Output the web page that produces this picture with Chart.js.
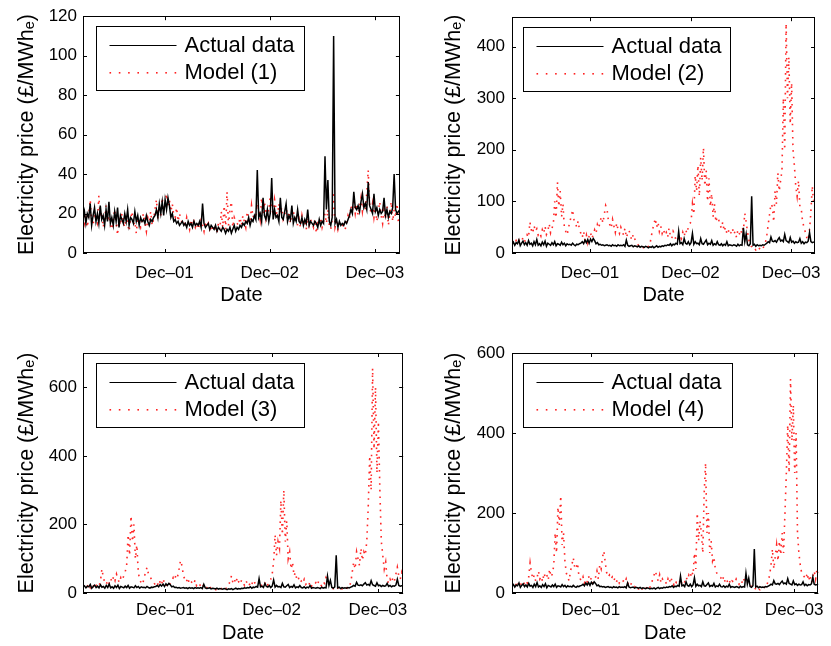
<!DOCTYPE html>
<html>
<head>
<meta charset="utf-8">
<script src="https://cdn.jsdelivr.net/npm/chart.js@4.4.1/dist/chart.umd.min.js"></script>
<style>
  body { margin: 0; background: #fff; }
  #wrap { position: relative; width: 831px; height: 646px; }
  canvas { position: absolute; }
</style>
</head>
<body>
<div id="wrap">
  <canvas id="c1" width="415" height="310" style="left:0;top:0"></canvas>
  <canvas id="c2" width="416" height="310" style="left:415px;top:0"></canvas>
  <canvas id="c3" width="415" height="326" style="left:0;top:320px"></canvas>
  <canvas id="c4" width="416" height="326" style="left:415px;top:320px"></canvas>
</div>
<script>
// days since start of the sample, one value every 5 days (0 .. 1100)
var dayStep = 5;
var xTickDays = [283, 648, 1013];
var xTickLabels = ['Dec\u201301', 'Dec\u201302', 'Dec\u201303'];

var actualPrice = [
  17,21,15,20,18,25,14,19,23,16,
  20,15,24,17,19,14,22,16,26,15,
  18,14,21,16,23,13,19,17,15,20,
  16,22,14,18,17,15,21,16,19,14,
  18,16,17,15,19,16,14,17,16,18,
  19,22,18,25,20,26,19,27,22,28,
  24,18,20,16,17,15,16,14,15,16,
  14,15,13,16,14,15,13,16,14,15,
  14,16,13,25,15,13,14,15,12,14,
  13,12,14,11,13,12,11,13,12,10,
  12,11,13,10,12,14,11,13,12,14,
  13,15,14,16,15,18,14,17,16,19,
  17,42,18,20,16,28,19,17,22,16,
  20,38,17,22,18,19,16,28,18,17,
  21,25,16,19,17,24,15,18,16,22,
  16,15,18,14,17,15,22,14,16,15,
  14,16,15,13,17,14,16,15,49,22,
  37,16,14,18,110,15,17,13,16,14,
  15,14,16,15,17,19,22,20,31,23,
  22,24,21,26,30,23,25,22,36,24,
  22,20,30,21,23,19,22,20,21,28,
  19,22,18,21,20,23,40,22,20,21,
  22
];

var model1 = [
  22,15,18,13,19,27,16,14,20,17,
  15,29,18,21,13,17,24,16,19,14,
  12,17,22,15,9,18,14,20,16,13,
  19,15,11,17,21,14,16,10,18,15,
  13,17,20,15,11,18,16,21,14,17,
  22,27,17,24,19,28,21,25,30,23,
  27,21,25,19,18,23,16,20,17,15,
  16,13,18,15,12,17,14,16,13,15,
  12,15,17,14,11,16,13,15,12,14,
  11,14,13,10,15,12,21,13,24,12,
  31,14,22,26,13,18,16,15,14,18,
  14,19,16,13,21,17,15,24,18,20,
  19,25,22,17,28,20,26,18,23,21,
  29,24,19,27,22,18,25,20,23,17,
  19,24,17,21,15,20,22,16,18,14,
  17,13,19,15,16,12,18,14,17,15,
  13,17,10,15,14,18,13,16,20,15,
  22,14,12,17,31,13,16,12,15,14,
  13,16,12,15,19,17,24,21,26,20,
  25,19,23,28,21,26,22,30,42,24,
  20,25,18,23,16,21,26,19,15,22,
  17,24,14,20,26,16,22,18,25,15,
  19
];

var model2 = [
  20,22,18,24,19,25,21,23,30,22,
  26,35,30,60,45,38,53,42,47,35,
  40,33,45,38,52,36,42,57,39,48,
  55,100,68,137,90,120,70,95,50,42,
  35,48,62,70,84,65,58,50,62,45,
  38,30,42,25,35,20,33,40,28,36,
  45,38,55,48,62,70,58,75,92,85,
  62,55,48,65,52,40,58,45,38,50,
  42,35,48,30,38,44,33,25,36,28,
  22,18,14,12,10,11,9,12,10,13,
  15,30,45,55,67,50,60,42,52,38,
  46,35,40,30,48,33,28,42,36,25,
  30,22,35,28,40,32,45,38,50,57,
  60,95,75,150,120,170,110,185,140,204,
  130,160,100,145,90,115,70,95,60,70,
  65,55,48,60,42,50,38,45,35,40,
  48,36,42,30,45,38,33,50,44,77,
  60,40,25,15,12,8,10,6,9,12,
  7,10,8,14,20,35,55,75,95,90,
  60,120,95,155,120,140,160,300,200,445,
  300,380,250,330,200,170,130,110,140,90,
  85,60,50,40,30,25,45,80,130,95,
  110
];

var model3 = [
  22,18,25,20,28,16,24,19,30,22,
  26,20,35,70,45,30,25,38,28,42,
  32,48,36,55,40,30,45,38,50,62,
  80,170,110,225,150,200,100,140,60,38,
  30,25,45,60,75,55,48,40,35,28,
  22,30,20,35,25,42,28,20,30,24,
  28,35,45,38,55,48,70,95,80,50,
  40,32,45,28,35,30,25,38,22,30,
  25,20,28,18,22,15,20,12,18,14,
  12,10,8,11,9,13,10,15,12,18,
  20,35,50,30,40,28,45,32,25,38,
  30,22,35,28,20,32,25,38,30,26,
  22,30,18,25,20,28,35,24,30,40,
  55,90,170,110,150,130,270,170,300,150,
  210,100,120,70,90,50,60,38,45,30,
  35,28,40,25,30,22,32,20,28,25,
  30,22,35,26,20,32,28,45,38,30,
  25,18,12,10,8,15,6,10,12,8,
  10,15,12,20,30,60,90,70,120,100,
  80,130,95,120,110,150,250,400,300,655,
  420,600,350,500,300,150,110,70,90,40,
  28,40,30,45,35,55,75,50,40,60,
  45
];

var model4 = [
  20,25,18,22,30,17,24,20,28,22,
  30,25,40,75,50,35,45,30,38,55,
  35,42,28,50,38,45,32,60,40,48,
  70,150,100,215,170,243,120,150,80,50,
  40,30,55,70,88,65,60,75,45,35,
  30,40,25,35,28,42,30,38,25,32,
  40,55,35,70,60,90,105,75,50,40,
  45,35,40,30,38,28,35,25,32,28,
  30,25,35,22,28,20,25,18,15,20,
  12,10,14,8,12,9,15,11,18,14,
  20,35,45,55,40,30,45,25,35,28,
  30,22,35,25,40,28,20,32,26,30,
  25,35,22,30,28,40,32,45,38,55,
  45,100,60,200,130,180,150,100,250,325,
  150,200,100,130,80,90,60,50,45,40,
  38,30,42,28,35,25,32,22,30,28,
  25,35,28,22,30,25,38,30,45,35,
  28,20,15,10,8,12,6,10,8,12,
  10,14,12,20,30,45,70,110,60,90,
  120,80,130,95,150,100,200,300,420,300,
  535,380,470,300,400,150,100,70,50,45,
  40,35,50,30,45,25,40,55,35,60,
  50
];

var yTicks1 = [0, 20, 40, 60, 80, 100, 120];
var yTicks2 = [0, 100, 200, 300, 400];
var yTicks3 = [0, 200, 400, 600];
var yTicks4 = [0, 200, 400, 600];

Chart.defaults.font.family = '"Liberation Sans", Arial, Helvetica, sans-serif';
Chart.defaults.color = '#000';

function toPoints(values) {
  return values.map(function (v, i) { return { x: i * dayStep, y: v }; });
}

// axes box, inward tick marks and the boxed legend (matlab look)
var framePlugin = {
  id: 'frame',
  afterDatasetsDraw: function (chart, args, opts) {
    var ctx = chart.ctx, a = chart.chartArea;
    var xs = chart.scales.x, ys = chart.scales.y;
    ctx.save();
    ctx.strokeStyle = '#000';
    ctx.lineWidth = 1;
    ctx.beginPath();
    xs.ticks.forEach(function (t) {
      var px = Math.round(xs.getPixelForValue(t.value)) + 0.5;
      ctx.moveTo(px, a.bottom); ctx.lineTo(px, a.bottom - 4);
      ctx.moveTo(px, a.top); ctx.lineTo(px, a.top + 4);
    });
    ys.ticks.forEach(function (t) {
      var py = Math.round(ys.getPixelForValue(t.value)) + 0.5;
      ctx.moveTo(a.left, py); ctx.lineTo(a.left + 4, py);
      ctx.moveTo(a.right, py); ctx.lineTo(a.right - 4, py);
    });
    ctx.stroke();
    ctx.strokeRect(Math.round(a.left) + 0.5, Math.round(a.top) + 0.5,
                   Math.round(a.right - a.left) - 1, Math.round(a.bottom - a.top) - 1);

    // legend
    var bx = Math.round(a.left + opts.dx) + 0.5, by = Math.round(a.top + 10) + 0.5;
    var bw = opts.w, bh = 64;
    ctx.fillStyle = '#fff';
    ctx.fillRect(bx, by, bw, bh);
    ctx.strokeRect(bx, by, bw, bh);
    var ds = chart.data.datasets;
    var r1 = by + 18, r2 = by + 45;
    ctx.beginPath();
    ctx.moveTo(bx + 13, Math.round(r1) + 0.5);
    ctx.lineTo(bx + 80, Math.round(r1) + 0.5);
    ctx.lineWidth = 1.2;
    ctx.stroke();
    ctx.fillStyle = '#ff2020';
    for (var k = 0; k < 8; k++) {
      ctx.fillRect(bx + 13 + k * 9.3, Math.round(r2), 1.6, 1.6);
    }
    ctx.fillStyle = '#000';
    ctx.font = '22px "Liberation Sans", Arial, sans-serif';
    ctx.textBaseline = 'middle';
    ctx.textAlign = 'left';
    ctx.fillText(ds[0].label, bx + 88, r1 + 1);
    ctx.fillText(ds[1].label, bx + 88, r2 + 1);
    ctx.restore();
  }
};

function makeChart(id, modelLabel, modelValues, yMax, yTicks, box) {
  new Chart(document.getElementById(id), {
    type: 'line',
    data: {
      datasets: [{
        label: 'Actual data',
        data: toPoints(actualPrice),
        borderColor: '#000',
        borderWidth: 1.5,
        pointRadius: 0,
        tension: 0,
        fill: false
      }, {
        label: modelLabel,
        data: toPoints(modelValues),
        borderColor: 'rgba(255,0,0,0.85)',
        borderWidth: 1.6,
        borderDash: [1.6, 5],
        pointRadius: 0,
        tension: 0,
        fill: false
      }]
    },
    options: {
      responsive: false,
      animation: false,
      devicePixelRatio: 1,
      layout: { padding: { left: 0, right: box.padRight, top: box.padTop, bottom: 0 } },
      plugins: {
        legend: { display: false },
        tooltip: { enabled: false },
        frame: { dx: box.legendDx, w: box.legendW }
      },
      scales: {
        x: {
          type: 'linear',
          min: 0,
          max: 1100,
          grid: { display: false, drawTicks: false },
          border: { display: false },
          afterBuildTicks: function (s) {
            s.ticks = xTickDays.map(function (v) { return { value: v }; });
          },
          ticks: {
            autoSkip: false,
            maxRotation: 0,
            padding: box.xTickPad,
            font: { size: 17 },
            callback: function (v, i) { return xTickLabels[i]; }
          },
          title: { display: true, text: 'Date', font: { size: 20 }, padding: { top: 0, bottom: box.xTitlePad } },
          afterFit: function (s) { s.height = box.xAxisH; }
        },
        y: {
          min: 0,
          max: yMax,
          grid: { display: false, drawTicks: false },
          border: { display: false },
          afterBuildTicks: function (s) {
            s.ticks = yTicks.map(function (v) { return { value: v }; });
          },
          ticks: { padding: box.yTickPad, font: { size: 17 } },
          title: {
            display: true,
            text: 'Electricity price (\u00a3/MWh\u2091)',
            font: { size: 21.5 },
            padding: { top: box.yTitlePad, bottom: 0 }
          },
          afterFit: function (s) { s.width = box.yAxisW; }
        }
      }
    },
    plugins: [framePlugin]
  });
}

makeChart('c1', 'Model (1)', model1, 120, yTicks1,
  { padRight: 11, padTop: 14, xAxisH: 57, yAxisW: 83, xTickPad: 10, xTitlePad: 3, yTickPad: 6, yTitlePad: 14, legendDx: 13, legendW: 208 });
makeChart('c2', 'Model (2)', model2, 457, yTicks2,
  { padRight: 8, padTop: 14, xAxisH: 57, yAxisW: 97, xTickPad: 10, xTitlePad: 3, yTickPad: 7, yTitlePad: 26, legendDx: 11, legendW: 207 });
makeChart('c3', 'Model (3)', model3, 700, yTicks3,
  { padRight: 11, padTop: 33, xAxisH: 53, yAxisW: 83, xTickPad: 7, xTitlePad: 1, yTickPad: 6, yTitlePad: 14, legendDx: 13, legendW: 208 });
makeChart('c4', 'Model (4)', model4, 600, yTicks4,
  { padRight: 7, padTop: 33, xAxisH: 53, yAxisW: 97, xTickPad: 7, xTitlePad: 1, yTickPad: 7, yTitlePad: 26, legendDx: 11, legendW: 209 });
</script>
</body>
</html>
